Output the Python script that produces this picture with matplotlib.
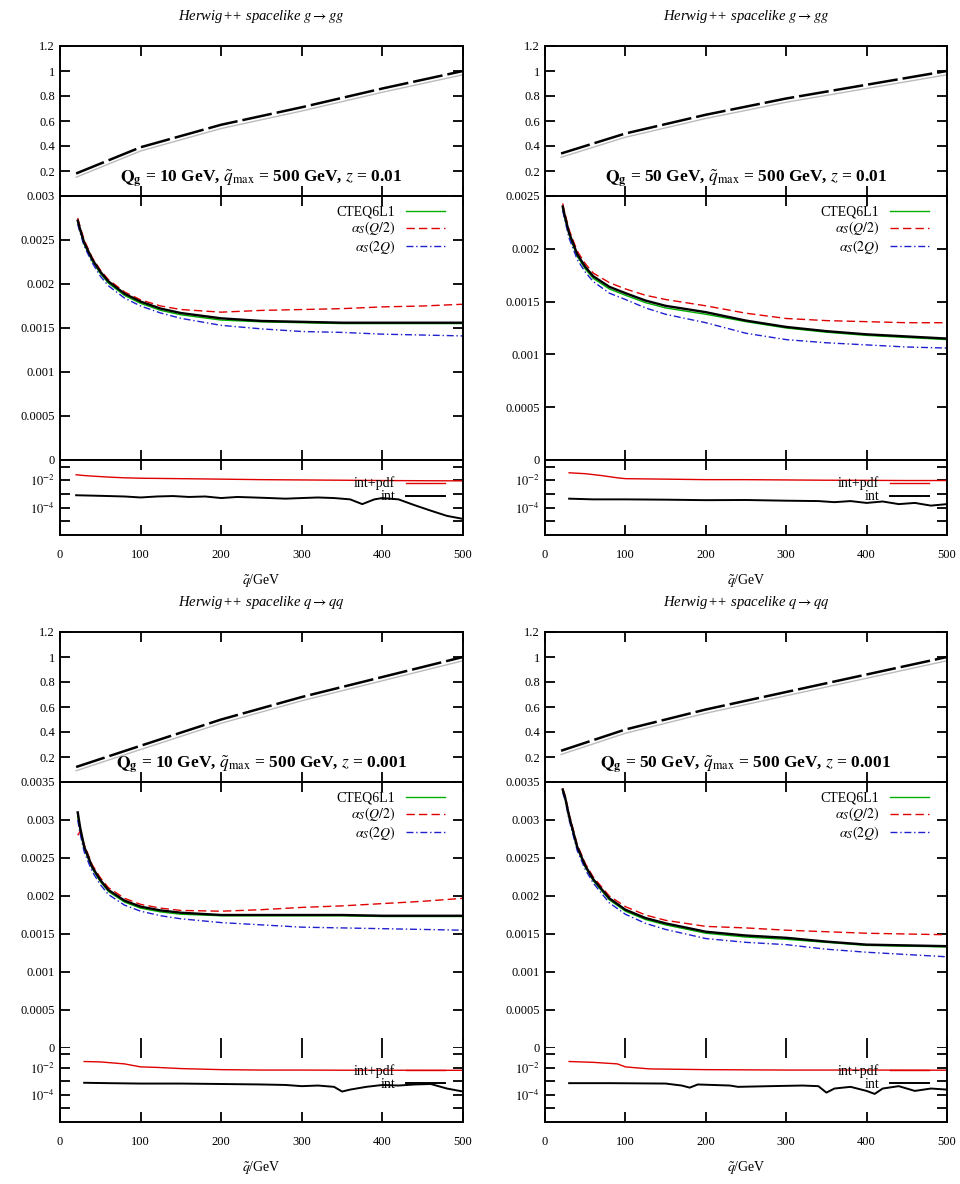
import matplotlib
matplotlib.use("Agg")
import matplotlib.pyplot as plt
from matplotlib.ticker import FixedLocator, NullLocator

plt.rcParams['font.family'] = ['Liberation Serif', 'DejaVu Serif']
plt.rcParams['mathtext.fontset'] = 'stix'

# ---- data ----
titles = ["Herwig++ spacelike $g\\rightarrow gg$", "Herwig++ spacelike $g\\rightarrow gg$",
          "Herwig++ spacelike $q\\rightarrow qq$", "Herwig++ spacelike $q\\rightarrow qq$"]
notes = [r"$\mathbf{Q_g}$ = 10 GeV, $\tilde{q}_{\rm max}$ = 500 GeV, $z$ = 0.01",
         r"$\mathbf{Q_g}$ = 50 GeV, $\tilde{q}_{\rm max}$ = 500 GeV, $z$ = 0.01",
         r"$\mathbf{Q_g}$ = 10 GeV, $\tilde{q}_{\rm max}$ = 500 GeV, $z$ = 0.001",
         r"$\mathbf{Q_g}$ = 50 GeV, $\tilde{q}_{\rm max}$ = 500 GeV, $z$ = 0.001"]

# ratio panels
q_ratio = [20, 100, 200, 300, 400, 500]
ratio_tl = [0.18, 0.39, 0.57, 0.71, 0.86, 1.0]
ratio_tr = [0.34, 0.50, 0.65, 0.78, 0.89, 1.0]
ratio_bl = [0.12, 0.29, 0.50, 0.68, 0.84, 1.0]
ratio_br = [0.25, 0.42, 0.58, 0.72, 0.86, 1.0]

# distribution panels
q_dist = [22, 25, 30, 40, 50, 60, 80, 100, 125, 150, 200, 250, 300, 350, 400, 450, 500]
tl_black = [0.00272, 0.00262, 0.00247, 0.00228, 0.00214, 0.00203, 0.00189, 0.00180, 0.00172, 0.00167,
            0.00161, 0.00158, 0.00157, 0.00156, 0.00156, 0.00156, 0.00156]
tl_green = [0.00270, 0.00260, 0.00245, 0.00226, 0.00212, 0.00201, 0.00187, 0.00178, 0.00170, 0.00165,
            0.00159, 0.00157, 0.00156, 0.00155, 0.00155, 0.00155, 0.00155]
tl_red = [0.00275, 0.00265, 0.00250, 0.00230, 0.00216, 0.00205, 0.00191, 0.00182, 0.00175, 0.00171,
          0.00168, 0.00170, 0.00171, 0.00172, 0.00174, 0.00175, 0.00177]
tl_blue = [0.00268, 0.00258, 0.00243, 0.00224, 0.00209, 0.00198, 0.00184, 0.00175, 0.00167, 0.00161,
           0.00153, 0.00149, 0.00146, 0.00145, 0.00143, 0.00142, 0.00141]

tr_black = [0.00240, 0.00230, 0.00215, 0.00195, 0.00183, 0.00174, 0.00164, 0.00158, 0.00151, 0.00146,
            0.00140, 0.00132, 0.00126, 0.00122, 0.00119, 0.00117, 0.00115]
tr_green = [0.00238, 0.00228, 0.00213, 0.00193, 0.00181, 0.00172, 0.00162, 0.00156, 0.00149, 0.00144,
            0.00138, 0.00131, 0.00125, 0.00121, 0.00118, 0.00116, 0.00114]
tr_red = [0.00243, 0.00233, 0.00218, 0.00198, 0.00186, 0.00177, 0.00168, 0.00162, 0.00156, 0.00152,
          0.00146, 0.00139, 0.00134, 0.00132, 0.00131, 0.00130, 0.00130]
tr_blue = [0.00236, 0.00226, 0.00210, 0.00190, 0.00178, 0.00169, 0.00158, 0.00152, 0.00144, 0.00138,
           0.00130, 0.00120, 0.00114, 0.00111, 0.00109, 0.00107, 0.00106]

bl_black = [0.00310, 0.00290, 0.00265, 0.00238, 0.00221, 0.00208, 0.00194, 0.00186, 0.00181, 0.00178,
            0.00175, 0.00175, 0.00175, 0.00175, 0.00174, 0.00174, 0.00174]
bl_green = [0.00305, 0.00286, 0.00262, 0.00236, 0.00219, 0.00206, 0.00192, 0.00184, 0.00179, 0.00176,
            0.00174, 0.00174, 0.00174, 0.00174, 0.00173, 0.00173, 0.00173]
bl_red = [0.00280, 0.00285, 0.00268, 0.00241, 0.00224, 0.00211, 0.00197, 0.00189, 0.00184, 0.00181,
          0.00180, 0.00182, 0.00185, 0.00187, 0.00190, 0.00193, 0.00197]
bl_blue = [0.00300, 0.00282, 0.00258, 0.00232, 0.00215, 0.00202, 0.00188, 0.00180, 0.00174, 0.00170,
           0.00165, 0.00162, 0.00159, 0.00158, 0.00157, 0.00156, 0.00155]

br_black = [0.00340, 0.00330, 0.00305, 0.00265, 0.00240, 0.00222, 0.00197, 0.00182, 0.00171, 0.00164,
            0.00153, 0.00148, 0.00145, 0.00140, 0.00136, 0.00135, 0.00134]
br_green = [0.00338, 0.00328, 0.00303, 0.00263, 0.00238, 0.00220, 0.00195, 0.00180, 0.00169, 0.00162,
            0.00151, 0.00146, 0.00143, 0.00139, 0.00135, 0.00134, 0.00133]
br_red = [0.00342, 0.00332, 0.00308, 0.00268, 0.00243, 0.00225, 0.00200, 0.00186, 0.00175, 0.00168,
          0.00160, 0.00158, 0.00155, 0.00153, 0.00151, 0.00150, 0.00149]
br_blue = [0.00336, 0.00326, 0.00300, 0.00260, 0.00235, 0.00217, 0.00191, 0.00176, 0.00164, 0.00156,
           0.00144, 0.00139, 0.00136, 0.00130, 0.00126, 0.00123, 0.00120]

# error panels
q_red_tl = [20, 30, 40, 60, 80, 100, 150, 200, 250, 300, 350, 400, 450, 500]
red_tl = [0.025, 0.022, 0.020, 0.017, 0.015, 0.014, 0.013, 0.012, 0.011, 0.0105, 0.0100, 0.0095, 0.0092, 0.0090]
q_blk_tl = [20, 40, 60, 80, 100, 120, 140, 160, 180, 200, 220, 240, 260, 280, 300, 320, 340, 360, 375,
            390, 400, 420, 440, 460, 480, 500]
blk_tl = [8e-4, 7.5e-4, 7e-4, 6.5e-4, 5.5e-4, 6.5e-4, 7e-4, 6e-4, 6.5e-4, 5e-4, 6e-4, 5.5e-4, 5e-4, 4.5e-4,
          5e-4, 5.5e-4, 5e-4, 4e-4, 1.8e-4, 4e-4, 5e-4, 4e-4, 1.5e-4, 6e-5, 2.5e-5, 1.5e-5]

q_red_tr = [30, 50, 70, 90, 100, 150, 200, 250, 300, 350, 400, 450, 500]
red_tr = [0.035, 0.030, 0.022, 0.015, 0.013, 0.012, 0.011, 0.011, 0.0105, 0.010, 0.0098, 0.0095, 0.0095]
q_blk_tr = [30, 60, 100, 150, 200, 250, 300, 340, 360, 380, 400, 420, 440, 460, 480, 500]
blk_tr = [4.5e-4, 4e-4, 4e-4, 3.8e-4, 3.5e-4, 3.6e-4, 3.2e-4, 3e-4, 2.5e-4, 3e-4, 2.2e-4, 2.8e-4,
          1.8e-4, 2.2e-4, 1.4e-4, 1.8e-4]

q_red_bl = [30, 50, 80, 100, 120, 150, 200, 250, 300, 350, 400, 450, 500]
red_bl = [0.030, 0.028, 0.020, 0.012, 0.011, 0.009, 0.0075, 0.007, 0.007, 0.0068, 0.0068, 0.0067, 0.0067]
q_blk_bl = [30, 60, 100, 150, 200, 250, 280, 300, 320, 340, 350, 360, 380, 400, 420, 440, 460, 480, 500]
blk_bl = [8e-4, 7.5e-4, 7e-4, 7e-4, 6.5e-4, 6e-4, 5.5e-4, 4.5e-4, 5e-4, 4e-4, 1.8e-4, 2.5e-4, 4e-4,
          5.5e-4, 5e-4, 6e-4, 6.5e-4, 3e-4, 1.8e-4]

q_red_br = [30, 60, 90, 100, 130, 200, 300, 400, 500]
red_br = [0.030, 0.026, 0.020, 0.012, 0.0085, 0.0075, 0.007, 0.007, 0.0068]
q_blk_br = [30, 80, 150, 170, 180, 190, 230, 240, 280, 320, 340, 350, 360, 380, 400, 410, 420, 440,
            460, 480, 500]
blk_br = [7.5e-4, 7.5e-4, 7e-4, 5e-4, 3.5e-4, 6e-4, 5e-4, 4e-4, 4.5e-4, 5e-4, 4.5e-4, 1.5e-4, 3e-4,
          4e-4, 2e-4, 1.2e-4, 3e-4, 4.5e-4, 2e-4, 3e-4, 2.5e-4]

dist_ticks = [[0, 0.0005, 0.001, 0.0015, 0.002, 0.0025, 0.003],
              [0, 0.0005, 0.001, 0.0015, 0.002, 0.0025],
              [0, 0.0005, 0.001, 0.0015, 0.002, 0.0025, 0.003, 0.0035],
              [0, 0.0005, 0.001, 0.0015, 0.002, 0.0025, 0.003, 0.0035]]

panels = [
    dict(ratio=ratio_tl, dist=(tl_black, tl_green, tl_red, tl_blue),
         err=(q_red_tl, red_tl, q_blk_tl, blk_tl)),
    dict(ratio=ratio_tr, dist=(tr_black, tr_green, tr_red, tr_blue),
         err=(q_red_tr, red_tr, q_blk_tr, blk_tr)),
    dict(ratio=ratio_bl, dist=(bl_black, bl_green, bl_red, bl_blue),
         err=(q_red_bl, red_bl, q_blk_bl, blk_bl)),
    dict(ratio=ratio_br, dist=(br_black, br_green, br_red, br_blue),
         err=(q_red_br, red_br, q_blk_br, blk_br)),
]

fig = plt.figure(figsize=(9.6, 11.84), dpi=100)

H = 1184.0
W = 960.0
col_x = [(60, 463), (545, 947)]
row_y = [(46, 196, 460, 535), (632, 782, 1048, 1122)]


def box(x0, x1, y0, y1):
    return [x0 / W, 1 - y1 / H, (x1 - x0) / W, (y1 - y0) / H]


def style(ax):
    ax.tick_params(direction='in', top=True, right=True, length=7, width=1.3, labelsize=9)
    for s in ax.spines.values():
        s.set_linewidth(1.4)
    ax.set_xlim(0, 500)
    ax.xaxis.set_major_locator(FixedLocator([0, 100, 200, 300, 400, 500]))
    ax.xaxis.set_minor_locator(NullLocator())


for i, p in enumerate(panels):
    r, c = divmod(i, 2)
    x0, x1 = col_x[c]
    ya, yb, yc, yd = row_y[r]

    # ratio panel
    ax1 = fig.add_axes(box(x0, x1, ya, yb))
    style(ax1)
    ax1.plot(q_ratio, [v - 0.03 for v in p['ratio']], color='#bbbbbb', lw=1.0)
    ax1.plot(q_ratio, p['ratio'], color='black', lw=1.8, dashes=(12, 2))
    ax1.set_ylim(0, 1.2)
    ax1.set_yticks([0.2, 0.4, 0.6, 0.8, 1.0, 1.2])
    ax1.set_yticklabels(["0.2", "0.4", "0.6", "0.8", "1", "1.2"])
    ax1.tick_params(labelbottom=False)
    ax1.text(250, 0.14, notes[i], ha='center', va='center', fontsize=12.5, fontweight='bold')
    ax1.set_title(titles[i], fontsize=10.5, style='italic', pad=19)

    # distribution panel
    ax2 = fig.add_axes(box(x0, x1, yb, yc))
    style(ax2)
    blk, grn, red, blu = p['dist']
    ax2.plot(q_dist, grn, color='#00b000', lw=1.0, label='CTEQ6L1')
    ax2.plot(q_dist, red, color='#e00000', lw=1.0, dashes=(6, 3), label=r'$\alpha_S(Q/2)$')
    ax2.plot(q_dist, blu, color='#2020d0', lw=1.0, dashes=(5, 2, 1, 2), label=r'$\alpha_S(2Q)$')
    ax2.plot(q_dist, blk, color='black', lw=1.7)
    ticks = dist_ticks[i]
    ax2.set_ylim(0, ticks[-1])
    ax2.set_yticks(ticks)
    ax2.set_yticklabels(["%g" % t for t in ticks])
    ax2.tick_params(labelbottom=False)
    ax2.legend(loc='upper right', frameon=False, fontsize=10, markerfirst=False,
               handlelength=2.8, labelspacing=0.05, borderaxespad=0.3, bbox_to_anchor=(0.98, 1.0))

    # error panel
    ax3 = fig.add_axes(box(x0, x1, yc, yd))
    style(ax3)
    qr, er, qb, eb = p['err']
    ax3.plot(qr, er, color='#e00000', lw=1.0, label='int+pdf')
    ax3.plot(qb, eb, color='black', lw=1.4, label='int')
    ax3.set_yscale('log')
    ax3.set_ylim(1e-6, 0.3)
    ax3.yaxis.set_major_locator(FixedLocator([1e-1, 1e-2, 1e-3, 1e-4, 1e-5]))
    ax3.yaxis.set_minor_locator(NullLocator())
    ax3.set_yticklabels(["", r"$10^{-2}$", "", r"$10^{-4}$", ""])
    ax3.set_xticklabels(["0", "100", "200", "300", "400", "500"])
    ax3.tick_params(axis='x', pad=10)
    ax3.set_xlabel(r"$\tilde{q}$/GeV", fontsize=10, labelpad=8)
    ax3.legend(loc='center right', frameon=False, fontsize=10, markerfirst=False,
               handlelength=2.8, labelspacing=0.0, borderaxespad=0.3, bbox_to_anchor=(0.98, 0.6))

    if r == 1:
        ax2.spines['bottom'].set_visible(False)
        ax3.spines['top'].set_visible(False)

plt.savefig('out.png', dpi=100)
